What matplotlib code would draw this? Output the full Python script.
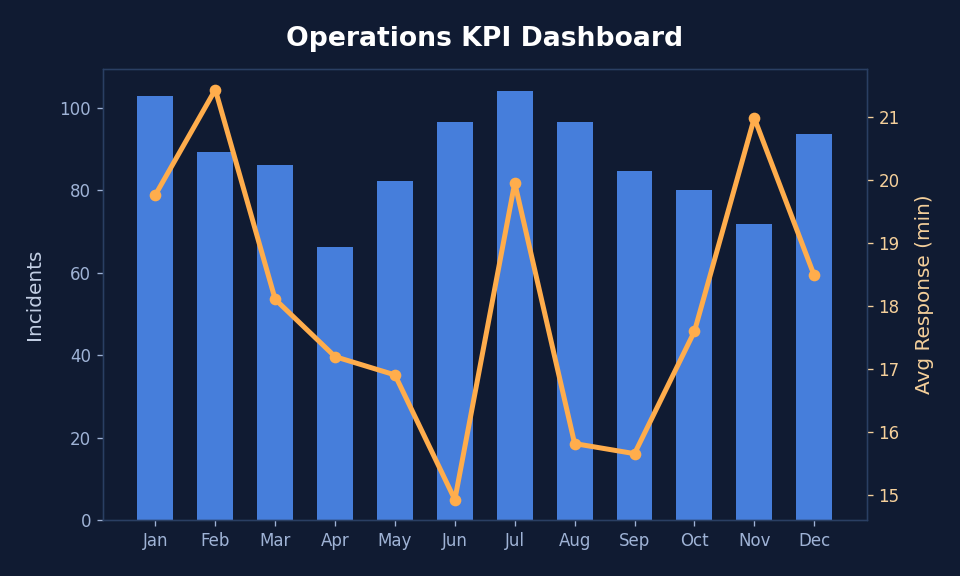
import matplotlib
matplotlib.use("Agg")
import matplotlib.pyplot as plt
import numpy as np

months = ["Jan", "Feb", "Mar", "Apr", "May", "Jun", "Jul", "Aug", "Sep", "Oct", "Nov", "Dec"]
incidents = [102.9, 89.3, 86.0, 66.3, 82.1, 96.4, 104.1, 96.6, 84.5, 80.1, 71.7, 93.7]
avg_response = [19.76, 21.43, 18.10, 17.19, 16.90, 14.92, 19.95, 15.81, 15.65, 17.59, 20.98, 18.48]

BG = "#101b32"
SPINE = "#2a3f63"
BAR = "#467edb"
LINE = "#ffad4c"
LEFT_TICK = "#9fb3d6"
RIGHT_TICK = "#f5d09b"

fig, ax = plt.subplots(figsize=(8, 4.8), dpi=120)
fig.patch.set_facecolor(BG)
ax.set_facecolor(BG)
fig.subplots_adjust(left=0.107, right=0.903, top=0.880, bottom=0.097)

x = np.arange(len(months))
ax.bar(x, incidents, width=0.6, color=BAR, zorder=2)
ax.set_xticks(x)
ax.set_xticklabels(months)
ax.set_ylabel("Incidents", color="#c3cfe4", fontsize=12, labelpad=9)
ax.tick_params(axis="both", colors=LEFT_TICK, labelsize=10)
for s in ax.spines.values():
    s.set_color(SPINE)

ax2 = ax.twinx()
ax2.plot(x, avg_response, color=LINE, linewidth=3, marker="o", markersize=6, zorder=3)
ax2.set_ylabel("Avg Response (min)", color=RIGHT_TICK, fontsize=12, labelpad=9)
ax2.tick_params(axis="y", colors=RIGHT_TICK, labelsize=10)
for s in ax2.spines.values():
    s.set_color(SPINE)

ax.set_title("Operations KPI Dashboard", color="white", fontsize=16, fontweight="bold", pad=14)

fig.savefig("out.png", facecolor=BG)
